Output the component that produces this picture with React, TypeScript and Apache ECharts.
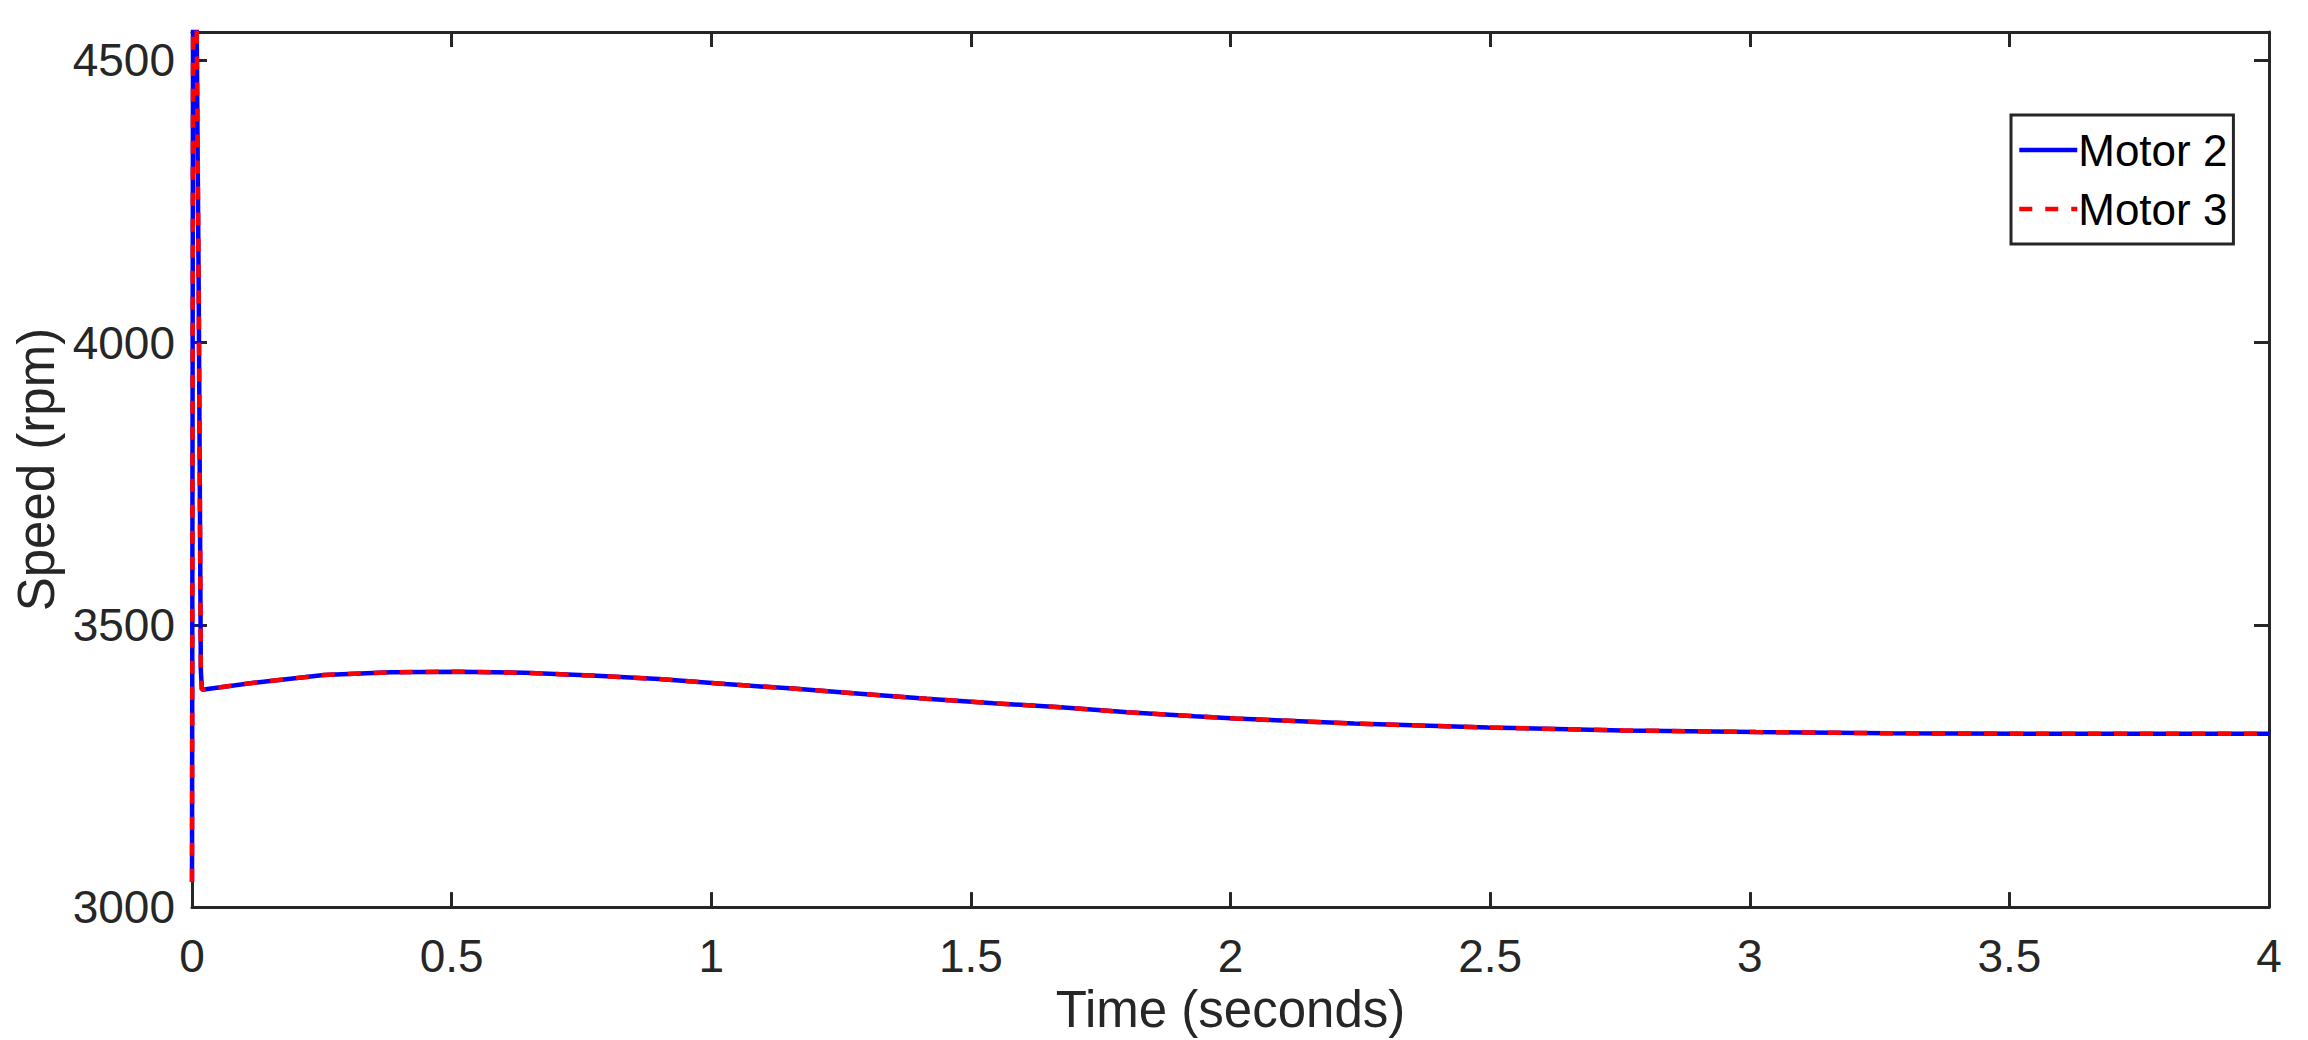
import React, { useEffect, useRef } from "react";
import * as echarts from "echarts";

const timeValues = [0, 0.0025, 0.006, 0.009, 0.013, 0.017, 0.019, 0.125, 0.254, 0.383, 0.512, 0.641, 0.77, 0.899, 1.028, 1.157, 1.286, 1.415, 1.544, 1.673, 1.802, 1.931, 2.009, 2.238, 2.496, 2.754, 3.012, 3.27, 3.528, 3.764, 4.0];
const motor2Speed = [3045, 4950, 4900, 4560, 4080, 3420, 3385, 3398, 3411, 3416, 3417, 3415, 3410, 3404, 3395, 3387, 3378, 3369, 3361, 3354, 3345, 3338, 3334, 3325, 3318, 3313, 3310, 3308, 3307, 3307, 3307];
const motor3Speed = [3045, 4950, 4900, 4560, 4080, 3420, 3385, 3398, 3411, 3416, 3417, 3415, 3410, 3404, 3395, 3387, 3378, 3369, 3361, 3354, 3345, 3338, 3334, 3325, 3318, 3313, 3310, 3308, 3307, 3307, 3307];
const seriesNames = ["Motor 2", "Motor 3"];
const xTitle = "Time (seconds)";
const yTitle = "Speed (rpm)";

const AXIS = "#262626";
const FONT = "'Liberation Sans', Arial, Helvetica, sans-serif";

export default function App() {
  const ref = useRef<HTMLDivElement>(null);
  useEffect(() => {
    if (!ref.current) return;
    const chart = echarts.init(ref.current, undefined, { renderer: "svg" });
    const axisCommon = {
      axisLine: { show: true, onZero: false, lineStyle: { color: AXIS, width: 3 } },
      axisTick: { show: true, inside: true, length: 15, lineStyle: { color: AXIS, width: 3 } },
      splitLine: { show: false },
    };
    chart.setOption({
      animation: false,
      backgroundColor: "#ffffff",
      textStyle: { fontFamily: FONT },
      grid: { left: 192, top: 32, width: 2077, height: 881, containLabel: false },
      legend: {
        data: seriesNames,
        orient: "vertical",
        left: 2011,
        top: 115,
        itemWidth: 58,
        itemHeight: 20,
        itemGap: 15,
        padding: [13, 6, 13, 6],
        borderColor: AXIS,
        borderWidth: 3,
        backgroundColor: "#ffffff",
        itemStyle: { opacity: 0 },
        lineStyle: { width: 4.5 },
        textStyle: { fontSize: 44, color: "#000", fontFamily: FONT, padding: [0, 0, 0, -4] },
      },
      xAxis: [
        {
          type: "value",
          min: 0,
          max: 4,
          interval: 0.5,
          position: "bottom",
          name: xTitle,
          nameLocation: "middle",
          nameGap: 44,
          nameTextStyle: { fontSize: 51, color: AXIS, fontFamily: FONT },
          axisLabel: { fontSize: 46, color: AXIS, margin: 26, fontFamily: FONT },
          ...axisCommon,
        },
        {
          type: "value",
          min: 0,
          max: 4,
          interval: 0.5,
          position: "top",
          axisLabel: { show: false },
          ...axisCommon,
        },
      ],
      yAxis: [
        {
          type: "value",
          min: 3000,
          max: 4550,
          interval: 500,
          position: "left",
          name: yTitle,
          nameLocation: "middle",
          nameGap: 130,
          nameTextStyle: { fontSize: 51, color: AXIS, fontFamily: FONT },
          axisLabel: {
            fontSize: 46,
            color: AXIS,
            margin: 17,
            fontFamily: FONT,
            showMaxLabel: false,
            formatter: (v: number) => (v % 500 === 0 ? String(v) : ""),
          },
          ...axisCommon,
        },
        {
          type: "value",
          min: 3000,
          max: 4550,
          interval: 500,
          position: "right",
          axisLabel: { show: false },
          ...axisCommon,
        },
      ],
      series: [
        {
          name: seriesNames[0],
          type: "line",
          data: timeValues.map((t, i) => [t, motor2Speed[i]]),
          symbol: "none",
          clip: true,
          lineStyle: { color: "#0000ff", width: 4.5 },
          itemStyle: { color: "#0000ff" },
        },
        {
          name: seriesNames[1],
          type: "line",
          data: timeValues.map((t, i) => [t, motor3Speed[i]]),
          symbol: "none",
          clip: true,
          lineStyle: { color: "#ff0000", width: 4.5, type: [13, 13] },
          itemStyle: { color: "#ff0000" },
        },
      ],
    });
    return () => chart.dispose();
  }, []);
  return (
    <div
      ref={ref}
      style={{ position: "fixed", left: 0, top: 0, width: 2308, height: 1040, background: "#fff" }}
    />
  );
}
